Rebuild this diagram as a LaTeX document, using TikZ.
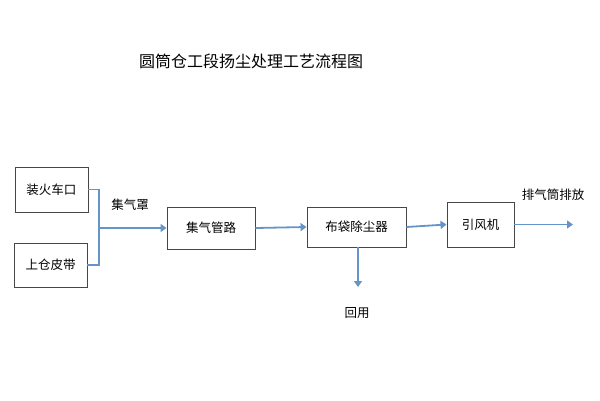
\documentclass[tikz,border=0pt]{standalone}
\usepackage{fontspec}
\setmainfont{Noto Sans CJK SC}
\usetikzlibrary{arrows.meta}
\definecolor{flowblue}{RGB}{100,148,200}
\definecolor{boxgray}{RGB}{70,70,70}
\tikzset{
  unitbox/.style={draw=boxgray, line width=0.9pt, inner sep=0pt, font=\fontsize{12.5}{14}\selectfont},
  flow/.style={draw=flowblue, line width=1.8pt, -{Triangle[length=6pt,width=8pt]}},
  joint/.style={draw=flowblue, line width=1.8pt},
  lbl/.style={font=\fontsize{12.5}{14}\selectfont}
}
\begin{document}
\begin{tikzpicture}[x=1pt,y=-1pt]
            \useasboundingbox (0,0) rectangle (600,400);
            \node (title) at (251,61) {\fontsize{16}{18}\selectfont 圆筒仓工段扬尘处理工艺流程图};
            \node[unitbox, minimum width=73pt, minimum height=45pt] (car) at (51.5,189.5) {装火车口};
            \node[unitbox, minimum width=73pt, minimum height=44pt] (belt) at (50.5,265) {上仓皮带};
            \node[unitbox, minimum width=88pt, minimum height=42pt] (pipe) at (211,228) {集气管路};
            \node[unitbox, minimum width=99pt, minimum height=40pt] (filter) at (356.5,227) {布袋除尘器};
            \node[unitbox, minimum width=67pt, minimum height=45pt] (fan) at (480.5,224.5) {引风机};
            \coordinate (hood) at (99,228);
            \coordinate (stack) at (573,224.5);
            \coordinate (back) at (358,287);
            \node[lbl] (hoodlbl) at (130,205) {集气罩};
            \node[lbl] (stacklbl) at (553,195) {排气筒排放};
            \node[lbl] (backlbl) at (357,313) {回用};
            \draw[joint] (car.east) -| (hood);
            \draw[joint] (belt.east) -| (hood);
            \draw[flow] (hood) -- (pipe.west);
            \draw[flow] (pipe.east) -- (filter.west);
            \draw[flow] (filter.east) -- (fan.west);
            \draw[flow] (fan.east) -- (stack);
            \draw[flow] (filter.south -| back) -- (back);
        \end{tikzpicture}
\end{document}
